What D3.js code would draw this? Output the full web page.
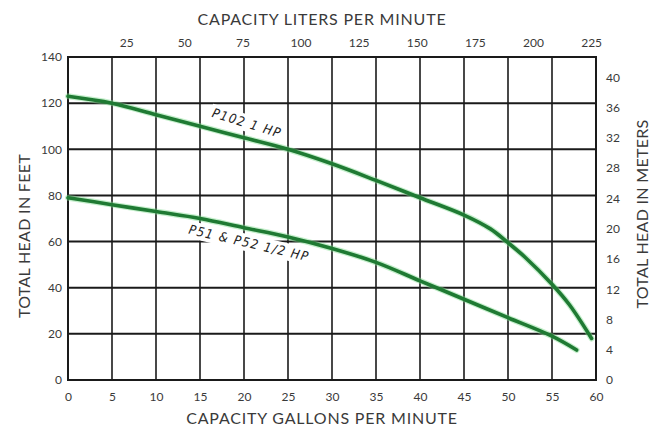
<!DOCTYPE html>
<html><head><meta charset="utf-8">
<script src="https://cdn.jsdelivr.net/npm/d3@7"></script>
<style>
html,body{margin:0;padding:0;background:#fff;}
svg text{font-family:"Lato","Open Sans",sans-serif;}
</style></head>
<body><svg id="c" width="657" height="429"></svg>
<script>
// ---- data ----
const gpmTicks = [0,5,10,15,20,25,30,35,40,45,50,55,60];
const lpmTicks = [25,50,75,100,125,150,175,200,225];
const feetTicks = [0,20,40,60,80,100,120,140];
const meterTicks = [0,4,8,12,16,20,24,28,32,36,40];
const meterLabels = ["0","4","8","12","16","20","24","28","32","36","40"];

const p102Gpm  = [0,5,10,15,20,25,30,35,40,45,48,50,52,55,57,59.5];
const p102Feet = [123,120,115,110,105,100,93.7,86.5,79,71.5,65.5,59.5,53,41.5,32.5,18];
const p51Gpm   = [0,5,10,15,20,25,30,35,40,45,50,55,57.8];
const p51Feet  = [79,76,73,70,66,62,57,51,43,35,27,19,13];

const seriesNames = ["P102 1 HP","P51 & P52 1/2 HP"];

// ---- layout ----
const svg = d3.select("#c");
const L=68,R=596,T=57,B=380;
const x  = d3.scaleLinear().domain([0,60]).range([L,R]);
const y  = d3.scaleLinear().domain([0,140]).range([B,T]);
const xL = d3.scaleLinear().domain([0,60*3.785]).range([L,R]);
const yM = d3.scaleLinear().domain([0,140*0.3048]).range([B,T]);

const ink="#1a1a1a", txt="#3a3a3a";

// grid
svg.append("g").selectAll("line").data(gpmTicks.slice(1,-1)).join("line")
  .attr("x1",d=>x(d)).attr("x2",d=>x(d)).attr("y1",T).attr("y2",B)
  .attr("stroke",ink).attr("stroke-width",1.6);
svg.append("g").selectAll("line").data(feetTicks.slice(1,-1)).join("line")
  .attr("x1",L).attr("x2",R).attr("y1",d=>y(d)).attr("y2",d=>y(d))
  .attr("stroke",ink).attr("stroke-width",2);
svg.append("rect").attr("x",L).attr("y",T).attr("width",R-L).attr("height",B-T)
  .attr("fill","none").attr("stroke",ink).attr("stroke-width",2);

// axes
function styleAxis(g){
  g.select(".domain").remove();
  g.selectAll(".tick line").remove();
  g.selectAll("text").attr("fill",txt).style("font-size","12px");
}
svg.append("g").attr("transform",`translate(0,${B})`)
  .call(d3.axisBottom(x).tickValues(gpmTicks).tickSize(0).tickPadding(12)).call(styleAxis);
svg.append("g").attr("transform",`translate(0,${T})`)
  .call(d3.axisTop(xL).tickValues(lpmTicks).tickSize(0).tickPadding(10)).call(styleAxis);
svg.append("g").attr("transform",`translate(${L},0)`)
  .call(d3.axisLeft(y).tickValues(feetTicks).tickSize(0).tickPadding(6)).call(styleAxis);
svg.append("g").attr("transform",`translate(${R},0)`)
  .call(d3.axisRight(yM).tickValues(meterTicks).tickSize(0).tickPadding(10)
    .tickFormat((d,i)=>meterLabels[i])).call(styleAxis);

// titles
const tstyle = s=>s.attr("fill",txt).style("font-size","16px").style("letter-spacing","0.8px");
svg.append("text").attr("x",322).attr("y",25).attr("text-anchor","middle")
  .call(tstyle).text("CAPACITY LITERS PER MINUTE");
svg.append("text").attr("x",322).attr("y",424).attr("text-anchor","middle")
  .call(tstyle).text("CAPACITY GALLONS PER MINUTE");
svg.append("text").attr("transform","translate(30,236) rotate(-90)").attr("text-anchor","middle")
  .call(tstyle).style("letter-spacing","0.3px").text("TOTAL HEAD IN FEET");
svg.append("text").attr("transform","translate(648,214) rotate(-90)").attr("text-anchor","middle")
  .call(tstyle).style("letter-spacing","0.3px").text("TOTAL HEAD IN METERS");

// curve labels (white background)
function curveLabel(text,cx,cy,ang){
  const g=svg.append("g").attr("transform",`translate(${cx},${cy}) rotate(${ang})`);
  const t=g.append("text").attr("text-anchor","middle").attr("dy","0.35em")
    .attr("fill","#222").style("font-size","13px").style("font-style","italic")
    .style("letter-spacing","1.3px")
    .style("font-family","'DejaVu Sans Condensed','DejaVu Sans',sans-serif")
    .text(text);
  const bb=t.node().getBBox();
  g.insert("rect","text").attr("x",bb.x-2).attr("y",bb.y-1).attr("width",bb.width+4).attr("height",bb.height+2).attr("fill","#fff");
}
curveLabel(seriesNames[0],247,123,17);
curveLabel(seriesNames[1],249,243,13);

// curves
const line=d3.line().x(d=>x(d[0])).y(d=>y(d[1])).curve(d3.curveCatmullRom.alpha(0.5));
const s1=p102Gpm.map((g,i)=>[g,p102Feet[i]]);
const s2=p51Gpm.map((g,i)=>[g,p51Feet[i]]);
[s1,s2].forEach(s=>{
  svg.append("path").attr("d",line(s)).attr("fill","none").attr("stroke","#7fdc8f")
    .attr("stroke-width",6).attr("stroke-opacity",0.45).attr("stroke-linecap","round");
  svg.append("path").attr("d",line(s)).attr("fill","none").attr("stroke","#1f7a33")
    .attr("stroke-width",3.6).attr("stroke-linecap","round");
});
</script></body></html>
